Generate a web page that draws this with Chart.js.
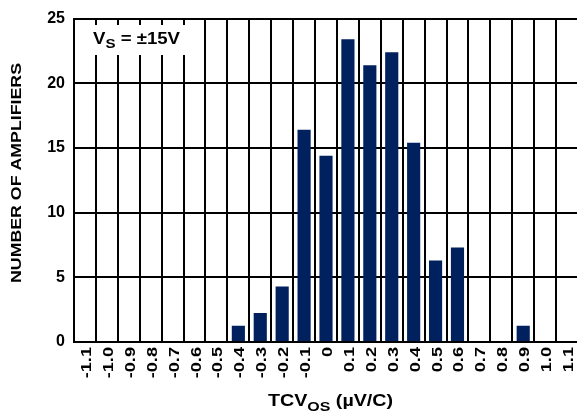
<!DOCTYPE html>
<html>
<head>
<meta charset="utf-8">
<script src="https://cdn.jsdelivr.net/npm/chart.js@4.4.0/dist/chart.umd.min.js"></script>
<style>
  body { margin: 0; background: #fff; overflow: hidden; }
  #wrap { width: 577px; height: 415px; overflow: hidden; }
</style>
</head>
<body>
<div id="wrap"><canvas id="chart" width="580" height="415"></canvas></div>
<script>
// kategorier (TCVos, µV/C) och antal förstärkare per stapel
const categories = ['-1.1', '-1.0', '-0.9', '-0.8', '-0.7', '-0.6', '-0.5', '-0.4', '-0.3', '-0.2', '-0.1', '0',
  '0.1', '0.2', '0.3', '0.4', '0.5', '0.6', '0.7', '0.8', '0.9', '1.0', '1.1'];
const amplifiers = [0, 0, 0, 0, 0, 0, 0, 1.25, 2.25, 4.3, 16.4, 14.4,
  23.4, 21.4, 22.4, 15.4, 6.3, 7.3, 0, 0, 1.25, 0, 0];
const yTicks = [0, 5, 10, 15, 20, 25];

const navy = '#00215e';
const boldFont = '"Liberation Sans", Arial, sans-serif';

// skriver text i delar (vanlig + nedsänkt) och sträcker ut den till en given bredd
function drawParts(ctx, parts, x, y, targetWidth) {
  let total = 0;
  parts.forEach(p => { ctx.font = 'bold ' + p[1] + 'px ' + boldFont; total += ctx.measureText(p[0]).width; });
  ctx.save();
  ctx.translate(x, y);
  ctx.scale(targetWidth / total, 1);
  let cx = 0;
  parts.forEach(p => {
    ctx.font = 'bold ' + p[1] + 'px ' + boldFont;
    ctx.fillText(p[0], cx, p[2]);
    cx += ctx.measureText(p[0]).width;
  });
  ctx.restore();
}

// ritar x-etiketter, axeltitlar och textrutan "VS = ±15V"
const labelsPlugin = {
  id: 'labels',
  afterDraw(c) {
    const ctx = c.ctx;
    const area = c.chartArea;
    const xs = c.scales.x;
    ctx.save();
    ctx.fillStyle = '#000';
    ctx.textBaseline = 'alphabetic';
    ctx.textAlign = 'left';

    // x-etiketter, roterade och utsträckta längs texten
    ctx.font = 'bold 14px ' + boldFont;
    categories.forEach((lab, i) => {
      const px = xs.getPixelForValue(i);
      ctx.save();
      ctx.translate(px + 6, area.bottom + 5);
      ctx.rotate(-Math.PI / 2);
      ctx.scale(1.3, 1);
      ctx.textAlign = 'right';
      ctx.fillText(lab, 0, 0);
      ctx.restore();
    });

    // vit ruta bakom texten
    ctx.fillStyle = '#fff';
    ctx.fillRect(area.left + 2, 25, 120, 30);
    ctx.fillStyle = '#000';
    drawParts(ctx, [['V', 16, 0], ['S', 13, 4], [' = ±15V', 16, 0]], 93, 44, 87);

    // x-axelns titel med nedsänkt OS
    drawParts(ctx, [['TCV', 16, 0], ['OS', 13, 5], [' (µV/C)', 16, 0]], 268, 406, 125);

    // y-axelns titel, roterad
    ctx.translate(21, 173);
    ctx.rotate(-Math.PI / 2);
    ctx.font = 'bold 15px ' + boldFont;
    const title = 'NUMBER OF AMPLIFIERS';
    const w = ctx.measureText(title).width;
    ctx.scale(220 / w, 1);
    ctx.textAlign = 'center';
    ctx.fillText(title, 0, 0);
    ctx.restore();
  }
};

const config = {
  type: 'bar',
  data: {
    labels: categories,
    datasets: [{
      data: amplifiers,
      backgroundColor: navy,
      borderWidth: 0,
      barPercentage: 0.6,
      categoryPercentage: 1.0
    }]
  },
  options: {
    responsive: false,
    animation: false,
    devicePixelRatio: 1,
    layout: { padding: { top: 11, right: 2, left: 0, bottom: 0 } },
    plugins: { legend: { display: false }, tooltip: { enabled: false } },
    scales: {
      x: {
        grid: { offset: true, color: '#000', lineWidth: 2, drawTicks: false },
        border: { color: '#000', width: 2 },
        ticks: { display: false, autoSkip: false },
        afterFit(s) { s.height = 73; }
      },
      y: {
        min: 0, max: 25,
        grid: { color: '#000', lineWidth: 2, drawTicks: false },
        border: { color: '#000', width: 2 },
        afterBuildTicks(s) { s.ticks = yTicks.map(v => ({ value: v })); },
        ticks: {
          color: '#000', padding: 9,
          font: { family: boldFont, size: 16, weight: 'bold' }
        },
        afterFit(s) { s.width = 74; }
      }
    }
  },
  plugins: [labelsPlugin]
};

new Chart(document.getElementById('chart').getContext('2d'), config);
</script>
</body>
</html>
